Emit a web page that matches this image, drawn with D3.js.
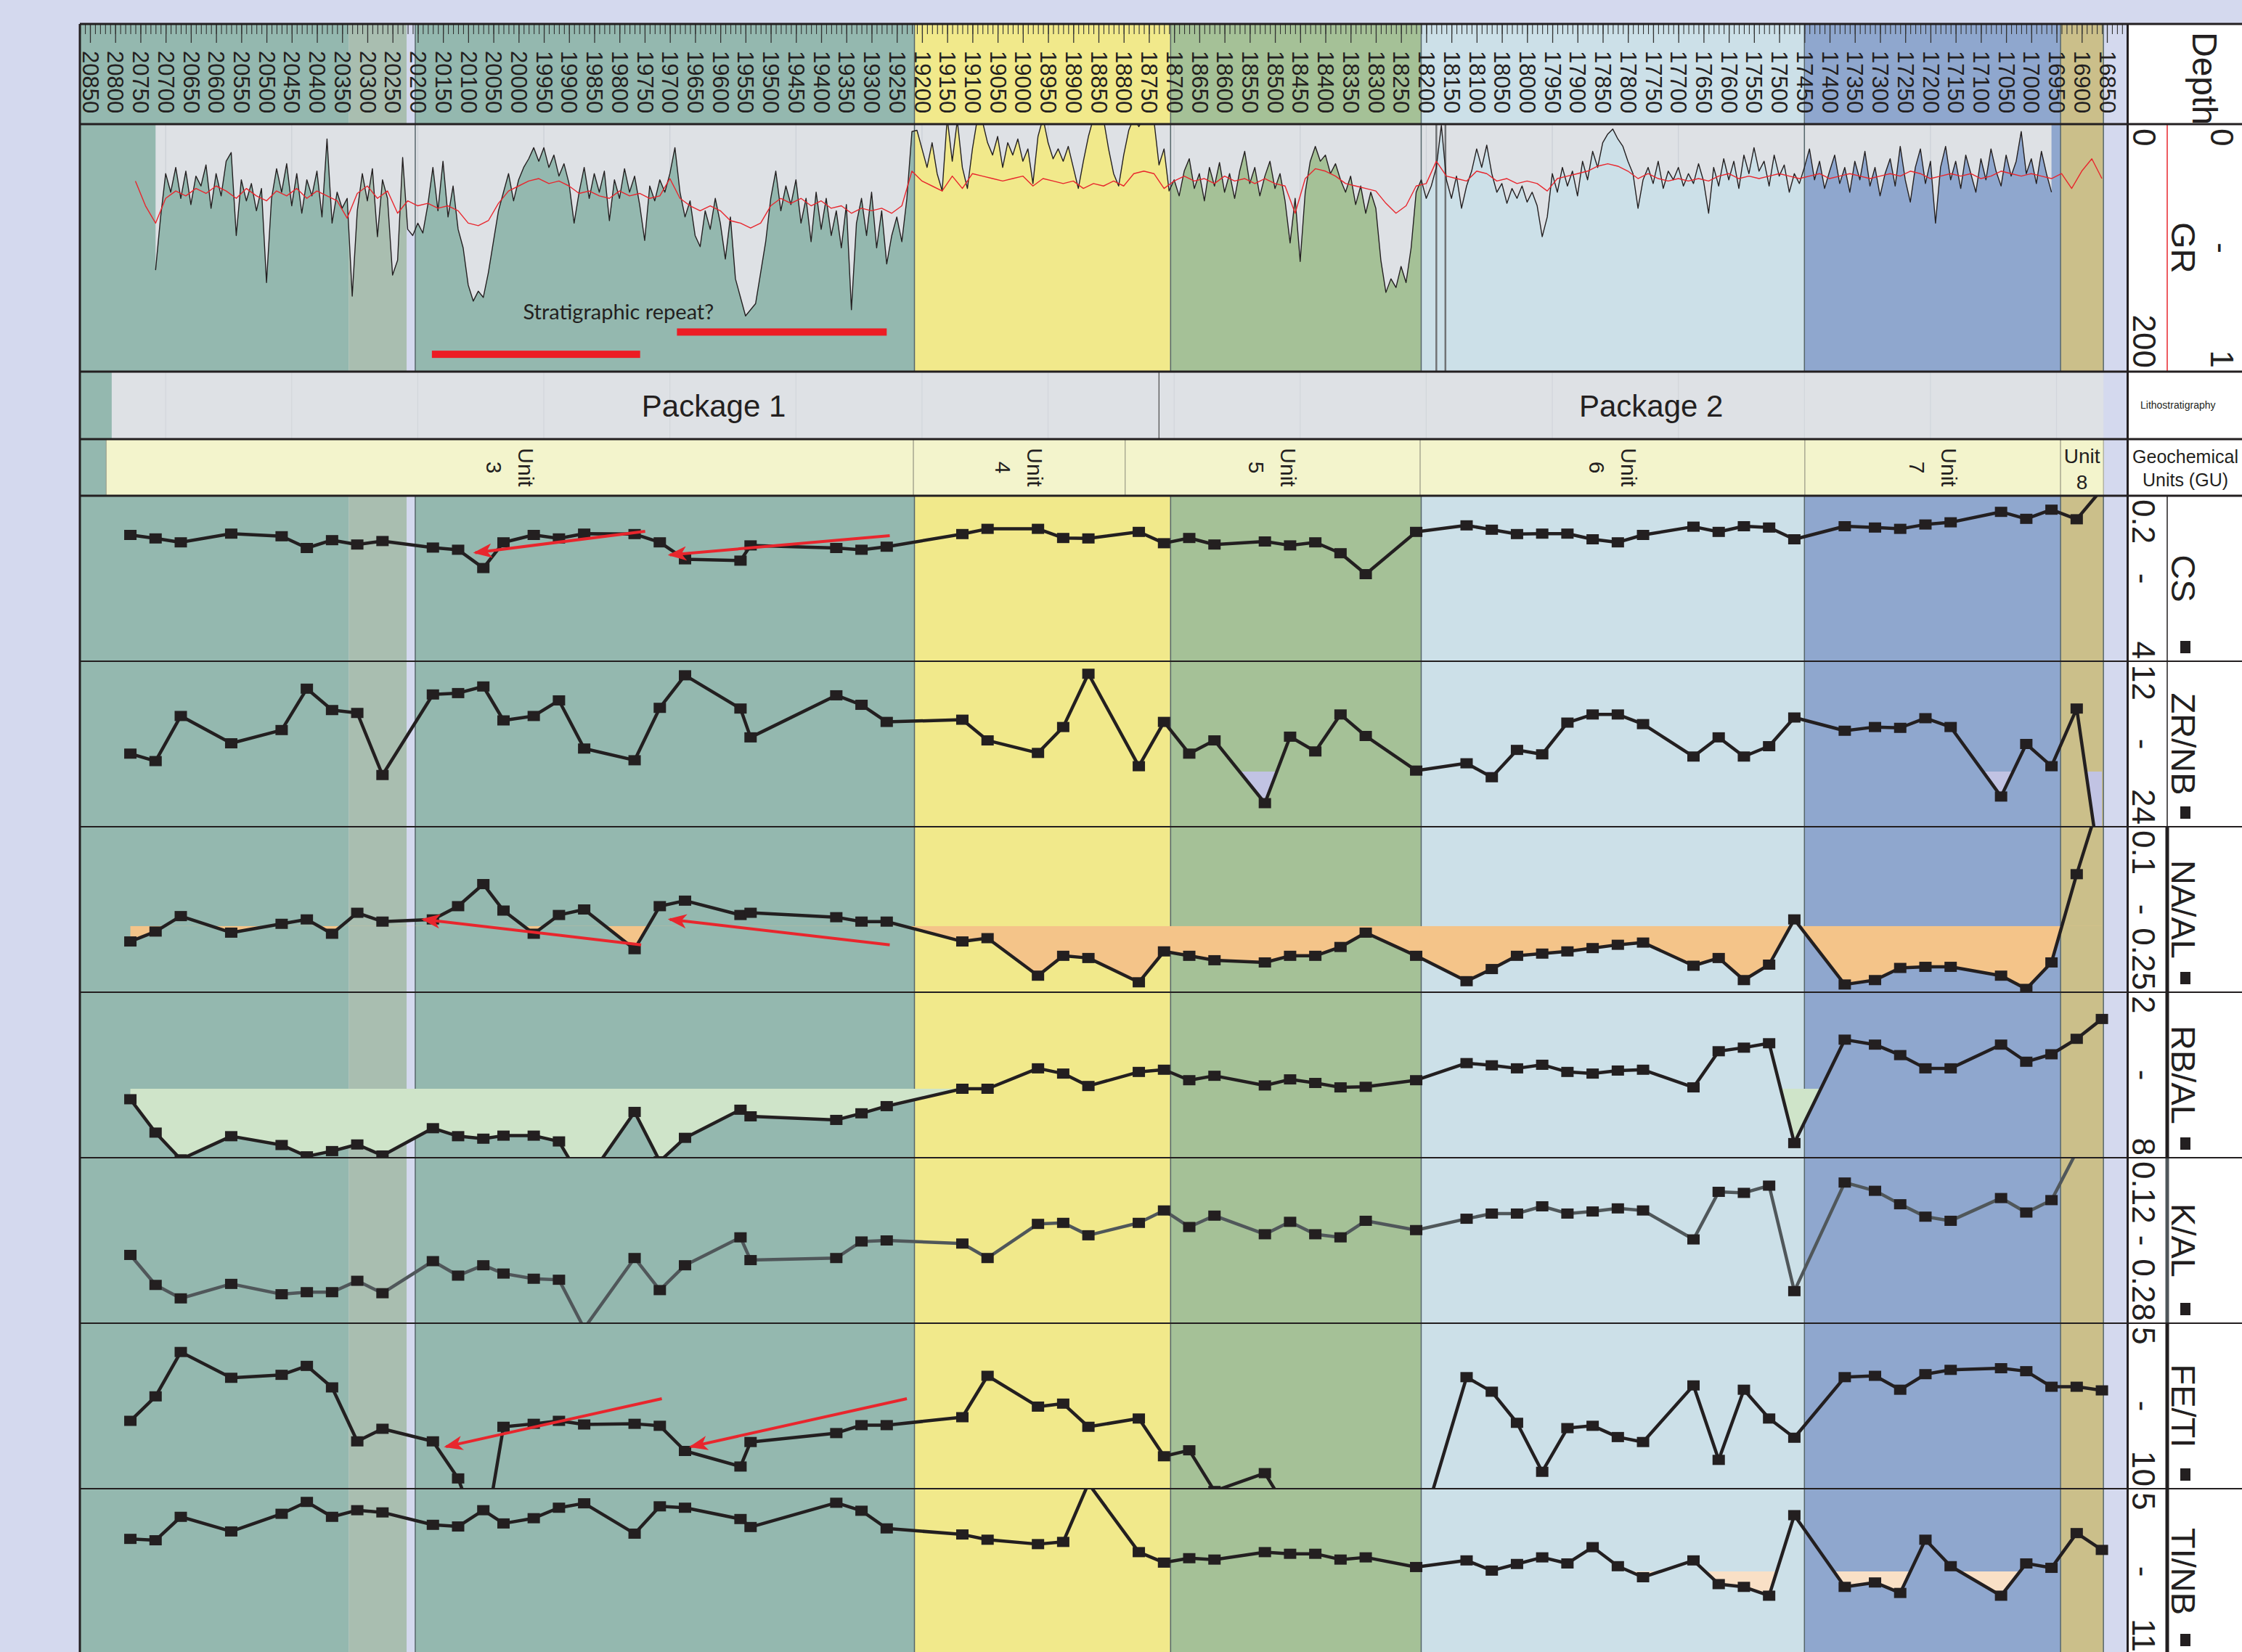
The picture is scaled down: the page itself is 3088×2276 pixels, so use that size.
<!DOCTYPE html>
<html>
<head>
<meta charset="utf-8">
<script src="https://cdn.jsdelivr.net/npm/d3@7"></script>
<style>
  body { margin: 0; background: #d4d9ee; }
  svg { display: block; font-family: "Liberation Sans", Arial, Helvetica, sans-serif; }
</style>
</head>
<body>
<div id="wrapper"></div>
<script>
// ---------- data read off the log ----------
// colour zones (depth ft, deep -> shallow)
const zoneEdges = [20875, 20337, 20222, 20205, 19215, 18707, 18210, 17450, 16942, 16857, 16800]
const zoneColors = ["#94b8af", "#a9beb0", "#d4d9ee", "#94b8af", "#f1e98b", "#a5c197", "#cce0e8", "#8fa7ce", "#cbbf8a", "#d4d9ee"]
const zoneLineDepths = [20205, 19215, 18707, 18210, 17450, 16942, 16857]

const depthLabels = d3.range(16850, 20851, 50)
const depthMinorTicks = d3.range(16810, 20871, 10)
const gridDepths = [20700, 20450, 20200, 19950, 19700, 19450, 19200, 18950, 18700, 18450, 18200, 17950, 17700, 17450, 17200, 16950]

const packageNames = ["Package 1", "Package 2"]
const packageTops = [20807, 18730]
const packageBases = [18730, 16857]
const packageLabelDepths = [19613, 17754]

const unitNames = ["3", "4", "5", "6", "7", "8"]
const unitTops = [20818, 19217, 18797, 18212, 17449, 16942]
const unitBases = [19217, 18797, 18212, 17449, 16942, 16857]

// gamma ray (API), every 10 ft from 20720 ft
const grTopDepth = 20720, grStep = 10
const grValues = [
  118,75,40,55,35,60,38,65,42,50,
  33,68,40,58,30,23,90,45,62,48,
  70,52,128,60,36,55,32,66,40,72,
  45,58,38,75,12,80,55,68,60,139,
  70,40,62,36,91,45,60,122,110,27,
  85,90,80,88,65,35,70,30,75,50,
  85,100,130,143,135,140,120,95,70,55,
  40,62,45,35,28,19,30,19,35,25,
  42,32,48,80,55,35,60,40,55,38,
  78,45,60,36,55,42,65,94,50,62,
  45,55,40,19,55,75,62,90,99,70,
  85,60,80,109,75,125,140,155,150,145,
  120,95,60,38,70,50,65,45,80,60,
  95,55,85,60,90,70,100,65,150,80,
  60,90,55,100,70,113,90,75,95,60,
  6,5,20,35,15,40,54,-5,30,-3,
  35,52,20,-5,-2,15,25,10,35,15,
  25,12,30,20,48,10,-5,15,28,20,
  30,18,35,52,30,10,-5,0,-4,20,
  40,50,25,5,-5,2,-5,0,-3,33,
  20,54,45,58,38,28,52,40,62,35,
  50,31,55,40,60,38,22,48,35,58,
  42,30,52,40,62,96,60,111,55,30,
  18,30,25,40,32,45,55,42,65,50,
  72,55,68,110,136,125,132,115,128,100,
  55,45,60,50,35,1,45,60,42,68,
  50,38,20,35,17,40,55,48,64,52,
  60,50,63,55,66,91,75,40,55,35,
  50,38,58,30,45,22,35,15,8,4,
  12,18,30,40,68,45,35,48,30,52,
  38,45,35,50,40,48,32,46,72,35,
  50,28,45,30,52,25,40,19,38,30,
  50,25,42,33,55,40,48,35,20,45,
  30,52,38,25,48,35,55,30,45,22,
  50,35,58,40,28,50,18,45,63,35,
  20,48,30,80,35,18,45,30,52,25,
  40,55,28,45,20,38,50,25,42,30,
  6,40,28,48,22,40,55
]
// red curve (0 - 1), every 20 ft from 20760 ft
const grRatioTopDepth = 20760, grRatioStep = 20
const grRatioValues = [
  0.23,0.33,0.40,0.30,0.27,0.29,0.26,0.28,0.25,0.27,
  0.30,0.26,0.29,0.31,0.27,0.29,0.26,0.30,0.27,0.29,
  0.31,0.38,0.28,0.25,0.30,0.27,0.36,0.31,0.33,0.32,
  0.34,0.33,0.35,0.40,0.41,0.39,0.32,0.27,0.25,0.23,
  0.22,0.24,0.23,0.25,0.28,0.27,0.29,0.30,0.27,0.29,
  0.28,0.30,0.29,0.22,0.30,0.33,0.35,0.33,0.35,0.39,
  0.40,0.42,0.40,0.33,0.30,0.32,0.30,0.33,0.31,0.34,
  0.33,0.36,0.34,0.35,0.34,0.36,0.33,0.19,0.23,0.25,
  0.27,0.21,0.26,0.20,0.21,0.22,0.23,0.22,0.21,0.25,
  0.22,0.23,0.24,0.23,0.26,0.24,0.25,0.23,0.25,0.20,
  0.19,0.20,0.26,0.23,0.21,0.23,0.22,0.24,0.21,0.23,
  0.22,0.24,0.22,0.24,0.25,0.36,0.22,0.18,0.19,0.21,
  0.24,0.25,0.26,0.27,0.32,0.36,0.33,0.25,0.24,0.15,
  0.21,0.22,0.23,0.19,0.20,0.23,0.22,0.24,0.23,0.24,
  0.27,0.22,0.21,0.20,0.19,0.17,0.16,0.17,0.19,0.22,
  0.20,0.22,0.23,0.22,0.23,0.22,0.23,0.21,0.20,0.22,
  0.21,0.22,0.21,0.20,0.21,0.22,0.21,0.20,0.22,0.21,
  0.20,0.21,0.22,0.21,0.20,0.21,0.19,0.20,0.22,0.21,
  0.20,0.21,0.20,0.22,0.21,0.19,0.20,0.21,0.20,0.21,
  0.22,0.20,0.26,0.19,0.14,0.22
]
const grSpikeLines = [18180, 18162]

const repeatBarTops = [20172, 19686]
const repeatBarBases = [19759, 19270]
const repeatBarGR = [186, 168]
const repeatText = "Stratigraphic repeat?"
const repeatTextDepth = 19802, repeatTextGR = 158

// geochemistry samples
const sampleDepths = [20770,20720,20670,20570,20470,20420,20370,20320,20270,20170,20120,20070,20030,19970,19920,19870,19770,19720,19670,19560,19540,
  19370,19320,19270,19120,19070,18970,18920,18870,18770,18720,18670,18620,18520,18470,18420,18370,18320,18220,18120,
  18070,18020,17970,17920,17870,17820,17770,17670,17620,17570,17520,17470,17370,17310,17260,17210,17160,17060,17010,16960,16910,16860]

const csValues = [1.10,1.18,1.27,1.07,1.13,1.40,1.22,1.32,1.24,1.39,1.44,1.86,1.27,1.10,1.18,1.07,1.08,1.27,1.66,1.69,1.34,
  1.40,1.44,1.37,1.08,0.96,0.96,1.17,1.18,1.03,1.29,1.17,1.32,1.25,1.34,1.27,1.52,2.00,1.03,0.88,
  0.98,1.08,1.07,1.07,1.20,1.27,1.10,0.91,1.03,0.90,0.93,1.20,0.90,0.93,0.96,0.86,0.81,0.57,0.73,0.52,0.74,0.05]
const zrnbValues = [18.70,19.24,15.97,17.95,16.99,13.99,15.54,15.75,20.25,14.41,14.31,13.83,16.29,15.97,14.84,18.33,19.18,15.38,13.02,15.43,17.52,
  14.47,15.16,16.40,16.24,17.74,18.65,16.77,12.91,19.61,16.40,18.70,17.74,22.29,17.47,18.54,15.86,17.42,19.93,19.40,
  20.41,18.43,18.75,16.45,15.86,15.86,16.56,18.91,17.52,18.91,18.16,16.08,17.04,16.77,16.83,16.13,16.77,21.81,18.00,19.61,15.43,28.0]
const naalValues = [0.204,0.195,0.181,0.196,0.188,0.184,0.197,0.178,0.186,0.184,0.172,0.152,0.176,0.197,0.180,0.175,0.211,0.172,0.167,0.180,0.178,
  0.182,0.186,0.186,0.204,0.201,0.235,0.217,0.219,0.241,0.213,0.217,0.221,0.223,0.217,0.217,0.209,0.196,0.217,0.240,
  0.229,0.217,0.215,0.213,0.210,0.207,0.205,0.226,0.219,0.239,0.225,0.184,0.243,0.239,0.228,0.227,0.227,0.235,0.247,0.223,0.143,0.070]
const rbalValues = [5.88,7.09,8.06,7.22,7.54,7.95,7.76,7.52,7.92,6.93,7.22,7.31,7.20,7.20,7.41,8.97,6.34,8.13,7.28,6.26,6.50,
  6.63,6.39,6.13,5.50,5.50,4.76,4.95,5.40,4.89,4.81,5.19,5.03,5.38,5.16,5.29,5.45,5.43,5.19,4.57,
  4.65,4.76,4.63,4.89,4.95,4.84,4.81,5.45,4.14,4.01,3.85,7.47,3.72,3.90,4.28,4.76,4.76,3.90,4.52,4.25,3.69,2.97]
const kalValues = [0.214,0.243,0.256,0.242,0.252,0.250,0.250,0.239,0.251,0.220,0.234,0.224,0.232,0.237,0.238,0.285,0.217,0.248,0.224,0.197,0.219,
  0.217,0.201,0.200,0.203,0.217,0.184,0.183,0.195,0.183,0.171,0.187,0.176,0.194,0.182,0.194,0.197,0.181,0.190,0.179,
  0.174,0.174,0.167,0.174,0.172,0.169,0.171,0.199,0.153,0.154,0.147,0.249,0.144,0.152,0.165,0.177,0.181,0.159,0.173,0.161,0.114,null]
const fetiValues = [7.95,7.21,5.87,6.65,6.56,6.29,6.94,8.57,8.19,8.57,9.69,11.74,8.13,8.04,7.95,8.06,8.04,8.10,8.86,9.33,8.59,
  8.32,8.08,8.08,7.84,6.59,7.52,7.43,8.13,7.88,9.02,8.84,10.07,9.53,10.78,null,null,null,11.74,6.63,
  7.07,8.01,9.49,8.17,8.10,8.44,8.59,6.88,9.13,7.01,7.88,8.46,6.63,6.59,7.01,6.54,6.41,6.36,6.45,6.92,6.92,7.03]
const tinbValues = [6.82,6.87,6.02,6.55,5.91,5.48,6.02,5.78,5.86,6.31,6.37,5.78,6.26,6.07,5.69,5.53,6.63,5.64,5.69,6.10,6.39,
  5.51,5.80,6.44,6.66,6.85,7.01,6.93,4.81,7.30,7.68,7.52,7.57,7.30,7.36,7.36,7.57,7.49,7.84,7.60,
  7.97,7.73,7.49,7.71,7.12,7.81,8.21,7.60,8.46,8.56,8.88,5.96,8.56,8.40,8.78,6.85,7.81,8.88,7.71,7.87,6.61,7.22]

const trackNames = ["CS", "ZR/NB", "NA/AL", "RB/AL", "K/AL", "FE/TI", "TI/NB"]
const trackValues = [csValues, zrnbValues, naalValues, rbalValues, kalValues, fetiValues, tinbValues]
const trackMins = [0.2, 12, 0.1, 2, 0.12, 5, 5]
const trackMaxs = [4, 24, 0.25, 8, 0.28, 10, 11]
const trackMinLabels = ["0.2", "12", "0.1", "2", "0.12", "5", "5"]
const trackMaxLabels = ["4", "24", "0.25", "8", "0.28", "10", "11"]
const trackLineColors = ["#231f20", "#231f20", "#231f20", "#231f20", "#50575a", "#231f20", "#231f20"]
const trackLegendWidths = [1.5, 1.5, 5, 5, 5, 5, 5]
const fillBaselines = [null, 20, 0.19, 5.5, null, null, 8]
const fillColors = [null, "#c1c3e3", "#f4c489", "#cfe4c9", null, null, "#f9e0c6"]

// red arrows (track index, tail -> tip)
const arrowTrack = [0, 0, 2, 2, 5, 5]
const arrowTailDepth = [19749, 19264, 19757, 19264, 19716, 19230]
const arrowTailValue = [1.015, 1.117, 0.207, 0.207, 7.28, 7.28]
const arrowTipDepth = [20086, 19700, 20189, 19700, 20144, 19658]
const arrowTipValue = [1.507, 1.558, 0.184, 0.184, 8.73, 8.73]

// ---------- layout ----------
const W = 3088, H = 2276
const plotLeft = 110, plotRight = 2930, headerLeft = 2932
const depthY0 = 33, grY0 = 171, pkgY0 = 512, unitY0 = 605, geoY0 = 683, trackH = 228
const ink = "#231f20", red = "#e8262d"
const font = '"Liberation Sans", Arial, Helvetica, sans-serif'

const x = d3.scaleLinear().domain([20850, 16850]).range([124, 2902])
const xc = d => Math.max(plotLeft, Math.min(plotRight, x(d)))

const svg = d3.select("#wrapper").append("svg")
    .attr("width", W)
    .attr("height", H)
const defs = svg.append("defs")

svg.append("rect").attr("width", W).attr("height", H).attr("fill", "#d4d9ee")

function drawZones(g, y0, y1) {
    g.append("g").selectAll("rect")
        .data(zoneColors)
        .join("rect")
        .attr("x", (c, i) => xc(zoneEdges[i]))
        .attr("width", (c, i) => xc(zoneEdges[i + 1]) - xc(zoneEdges[i]))
        .attr("y", y0)
        .attr("height", y1 - y0)
        .attr("fill", c => c)
}
function drawZoneLines(g, y0, y1) {
    g.append("g").selectAll("line")
        .data(zoneLineDepths)
        .join("line")
        .attr("x1", d => x(d)).attr("x2", d => x(d))
        .attr("y1", y0).attr("y2", y1)
        .attr("stroke", "#56666b")
        .attr("stroke-width", 1.5)
}
// rotated (top-to-bottom) text
function vtext(g, cx, cy, str, size, anchor) {
    return g.append("text")
        .attr("transform", `translate(${cx},${cy}) rotate(90)`)
        .attr("dy", "0.35em")
        .attr("text-anchor", anchor)
        .attr("font-size", size)
        .attr("fill", ink)
        .text(str)
}

// ---------- depth track ----------
const depthG = svg.append("g")
drawZones(depthG, depthY0, grY0)
drawZoneLines(depthG, depthY0, grY0)

const minorAxis = d3.axisBottom(x).tickValues(depthMinorTicks).tickSize(13).tickFormat("")
depthG.append("g")
    .attr("transform", `translate(0,${depthY0 + 1})`)
    .call(minorAxis)
    .call(g => g.select(".domain").remove())
    .call(g => g.selectAll("line").attr("stroke", "#333").attr("stroke-width", 1.1))

const majorAxis = d3.axisBottom(x).tickValues(depthLabels).tickSize(25).tickFormat(d3.format("d"))
const majorG = depthG.append("g")
    .attr("transform", `translate(0,${depthY0 + 1})`)
    .call(majorAxis)
majorG.attr("font-size", 31).attr("font-family", font)
majorG.select(".domain").remove()
majorG.selectAll("line").attr("stroke", "#333").attr("stroke-width", 1.3)
majorG.selectAll("text")
    .attr("y", 0)
    .attr("dy", "0.35em")
    .attr("transform", "translate(0,36) rotate(90)")
    .attr("text-anchor", "start")
    .attr("fill", ink)

// ---------- GR track ----------
const grH = pkgY0 - grY0
const yGR = d3.scaleLinear().domain([0, 200]).range([grY0, pkgY0])
const yRatio = d3.scaleLinear().domain([0, 1]).range([grY0, pkgY0])
const grPoints = grValues.map((v, i) => ({ d: grTopDepth - i * grStep, v }))
const ratioPoints = grRatioValues.map((v, i) => ({ d: grRatioTopDepth - i * grRatioStep, v }))
const grLast = grPoints[grPoints.length - 1].d

defs.append("clipPath").attr("id", "grClip")
    .append("rect").attr("x", plotLeft).attr("y", grY0).attr("width", plotRight - plotLeft).attr("height", grH)
const below = defs.append("clipPath").attr("id", "grBelow")
below.append("path")
    .attr("d", d3.area().x(p => x(p.d)).y0(pkgY0 + 5).y1(p => yGR(p.v))(grPoints))
below.append("rect").attr("x", plotLeft).attr("y", grY0).attr("width", x(grTopDepth) - plotLeft).attr("height", grH)
below.append("rect").attr("x", x(grLast)).attr("y", grY0).attr("width", plotRight - x(grLast)).attr("height", grH)

const grG = svg.append("g").attr("clip-path", "url(#grClip)")
grG.append("rect").attr("x", plotLeft).attr("y", grY0).attr("width", plotRight - plotLeft).attr("height", grH).attr("fill", "#dee1e5")
grG.append("g").selectAll("line").data(gridDepths).join("line")
    .attr("x1", d => x(d)).attr("x2", d => x(d)).attr("y1", grY0).attr("y2", pkgY0)
    .attr("stroke", "#cbd0d6").attr("stroke-width", 1.2)
const grZones = grG.append("g").attr("clip-path", "url(#grBelow)")
drawZones(grZones, grY0, pkgY0)
drawZoneLines(grG, grY0, pkgY0)

grG.append("g").selectAll("line").data(grSpikeLines).join("line")
    .attr("x1", d => x(d)).attr("x2", d => x(d)).attr("y1", grY0).attr("y2", pkgY0)
    .attr("stroke", "#707375").attr("stroke-width", 2.5)

grG.append("path").datum(grPoints)
    .attr("d", d3.line().x(p => x(p.d)).y(p => yGR(p.v)))
    .attr("fill", "none").attr("stroke", ink).attr("stroke-width", 1.4).attr("stroke-linejoin", "round")
grG.append("path").datum(ratioPoints)
    .attr("d", d3.line().x(p => x(p.d)).y(p => yRatio(p.v)))
    .attr("fill", "none").attr("stroke", red).attr("stroke-width", 1.4).attr("stroke-linejoin", "round")

grG.append("g").selectAll("rect").data(repeatBarTops).join("rect")
    .attr("x", (d, i) => x(d))
    .attr("width", (d, i) => x(repeatBarBases[i]) - x(d))
    .attr("y", (d, i) => yGR(repeatBarGR[i]) - 5)
    .attr("height", 10)
    .attr("fill", "#ec1c24")
grG.append("text")
    .attr("x", x(repeatTextDepth)).attr("y", yGR(repeatTextGR))
    .attr("text-anchor", "middle")
    .attr("font-family", "Lato, 'Open Sans', sans-serif")
    .attr("font-size", 29)
    .attr("fill", ink)
    .text(repeatText)

// ---------- lithostratigraphy (packages) ----------
const pkgG = svg.append("g")
drawZones(pkgG, pkgY0, unitY0)
pkgG.append("g").selectAll("rect").data(packageNames).join("rect")
    .attr("x", (d, i) => x(packageTops[i]))
    .attr("width", (d, i) => x(packageBases[i]) - x(packageTops[i]))
    .attr("y", pkgY0).attr("height", unitY0 - pkgY0)
    .attr("fill", "#dee1e5")
pkgG.append("g").selectAll("line").data(gridDepths.filter(d => d < 20807 && d > 16857)).join("line")
    .attr("x1", d => x(d)).attr("x2", d => x(d)).attr("y1", pkgY0).attr("y2", unitY0)
    .attr("stroke", "#d2d6db").attr("stroke-width", 1.2)
pkgG.append("line")
    .attr("x1", x(packageBases[0])).attr("x2", x(packageBases[0]))
    .attr("y1", pkgY0).attr("y2", unitY0)
    .attr("stroke", "#555").attr("stroke-width", 1.3)
pkgG.append("g").selectAll("text").data(packageNames).join("text")
    .attr("x", (d, i) => x(packageLabelDepths[i]))
    .attr("y", (pkgY0 + unitY0) / 2 + 15)
    .attr("text-anchor", "middle")
    .attr("font-size", 42)
    .attr("fill", ink)
    .text(d => d)

// ---------- geochemical units ----------
const unitG = svg.append("g")
drawZones(unitG, unitY0, geoY0)
unitG.append("g").selectAll("rect").data(unitNames).join("rect")
    .attr("x", (d, i) => x(unitTops[i]))
    .attr("width", (d, i) => x(unitBases[i]) - x(unitTops[i]))
    .attr("y", unitY0).attr("height", geoY0 - unitY0)
    .attr("fill", "#f3f4cc")
    .attr("stroke", "#9a9a86")
    .attr("stroke-width", 1)
const unitMid = (unitY0 + geoY0) / 2
unitNames.forEach((name, i) => {
    const x0 = x(unitTops[i]), x1 = x(unitBases[i])
    const cx = (x0 + x1) / 2
    if (x1 - x0 > 80) {
        vtext(unitG, cx + 22, unitMid, "Unit", 30, "middle")
        vtext(unitG, cx - 22, unitMid, name, 30, "middle")
    } else {
        unitG.append("text").attr("x", cx).attr("y", unitMid - 6).attr("text-anchor", "middle")
            .attr("font-size", 28).attr("fill", ink).text("Unit")
        unitG.append("text").attr("x", cx).attr("y", unitMid + 30).attr("text-anchor", "middle")
            .attr("font-size", 28).attr("fill", ink).text(name)
    }
})

// ---------- geochemistry tracks ----------
const geoG = svg.append("g")
drawZones(geoG, geoY0, H)
drawZoneLines(geoG, geoY0, H)

const trackY = []
trackNames.forEach((name, i) => {
    const top = geoY0 + i * trackH
    const y = d3.scaleLinear().domain([trackMins[i], trackMaxs[i]]).range([top, top + trackH])
    trackY.push(y)
    const pts = sampleDepths.map((d, k) => ({ d, v: trackValues[i][k] }))

    const clipId = "trackClip" + i
    defs.append("clipPath").attr("id", clipId)
        .append("rect").attr("x", plotLeft).attr("y", top).attr("width", plotRight - plotLeft).attr("height", trackH)
    const g = geoG.append("g").attr("clip-path", `url(#${clipId})`)

    // shade where the curve passes the cut-off value
    if (fillBaselines[i] != null) {
        const base = y(fillBaselines[i])
        const fillId = "fillClip" + i
        defs.append("clipPath").attr("id", fillId)
            .append("rect").attr("x", plotLeft).attr("y", base).attr("width", plotRight - plotLeft).attr("height", top + trackH - base + 400)
        g.append("path")
            .datum(pts.filter(p => p.v != null))
            .attr("clip-path", `url(#${fillId})`)
            .attr("d", d3.area().x(p => x(p.d)).y0(base).y1(p => y(p.v)))
            .attr("fill", fillColors[i])
    }

    g.append("path").datum(pts)
        .attr("d", d3.line().defined(p => p.v != null).x(p => x(p.d)).y(p => y(p.v)))
        .attr("fill", "none")
        .attr("stroke", trackLineColors[i])
        .attr("stroke-width", 4.5)
        .attr("stroke-linejoin", "round")

    g.append("g").selectAll("rect")
        .data(pts.filter(p => p.v != null))
        .join("rect")
        .attr("x", p => x(p.d) - 8.5)
        .attr("y", p => y(p.v) - 7)
        .attr("width", 17)
        .attr("height", 14)
        .attr("fill", ink)
})

// red arrows
defs.append("marker")
    .attr("id", "arrowHead")
    .attr("viewBox", "0 0 26 20")
    .attr("refX", 23).attr("refY", 10)
    .attr("markerWidth", 26).attr("markerHeight", 20)
    .attr("markerUnits", "userSpaceOnUse")
    .attr("orient", "auto")
    .append("path").attr("d", "M0,0 L26,10 L0,20 L7,10 Z").attr("fill", red)
svg.append("g").selectAll("line").data(arrowTrack).join("line")
    .attr("x1", (t, i) => x(arrowTailDepth[i]))
    .attr("y1", (t, i) => trackY[t](arrowTailValue[i]))
    .attr("x2", (t, i) => x(arrowTipDepth[i]))
    .attr("y2", (t, i) => trackY[t](arrowTipValue[i]))
    .attr("stroke", red)
    .attr("stroke-width", 4)
    .attr("marker-end", "url(#arrowHead)")

// ---------- header column ----------
svg.append("rect").attr("x", headerLeft).attr("y", depthY0).attr("width", W - headerLeft).attr("height", H - depthY0).attr("fill", "#fff")

// legend lines in header
svg.append("line").attr("x1", 2985).attr("x2", 2985).attr("y1", grY0).attr("y2", pkgY0).attr("stroke", red).attr("stroke-width", 1.5)
trackNames.forEach((name, i) => {
    const top = geoY0 + i * trackH
    svg.append("line").attr("x1", 2985).attr("x2", 2985).attr("y1", top).attr("y2", top + trackH)
        .attr("stroke", trackLineColors[i]).attr("stroke-width", trackLegendWidths[i])
})

// separators
const thickRows = [depthY0, grY0, pkgY0, unitY0, geoY0]
svg.append("g").selectAll("line").data(thickRows).join("line")
    .attr("x1", plotLeft).attr("x2", W).attr("y1", d => d).attr("y2", d => d)
    .attr("stroke", ink).attr("stroke-width", 3)
svg.append("g").selectAll("line").data(d3.range(1, trackNames.length).map(i => geoY0 + i * trackH)).join("line")
    .attr("x1", plotLeft).attr("x2", W).attr("y1", d => d).attr("y2", d => d)
    .attr("stroke", ink).attr("stroke-width", 2)
svg.append("line").attr("x1", plotLeft).attr("x2", plotLeft).attr("y1", depthY0).attr("y2", H).attr("stroke", ink).attr("stroke-width", 3)
svg.append("line").attr("x1", plotRight + 0.5).attr("x2", plotRight + 0.5).attr("y1", depthY0).attr("y2", H).attr("stroke", ink).attr("stroke-width", 3)

// header text
const hdr = svg.append("g")
vtext(hdr, 3037, 44, "Depth", 48, "start")
vtext(hdr, 2953, grY0 + 6, "0", 44, "start")
vtext(hdr, 2953, pkgY0 - 5, "200", 44, "end")
vtext(hdr, 3007, (grY0 + pkgY0) / 2, "GR", 47, "middle")
vtext(hdr, 3060, grY0 + 6, "0", 44, "start")
vtext(hdr, 3060, (grY0 + pkgY0) / 2, "-", 44, "middle")
vtext(hdr, 3060, pkgY0 - 5, "1", 44, "end")

hdr.append("text").attr("x", 2948).attr("y", 563).attr("font-size", 14).attr("fill", ink).text("Lithostratigraphy")
hdr.append("text").attr("x", 3010).attr("y", 638).attr("text-anchor", "middle").attr("font-size", 25).attr("fill", ink).text("Geochemical")
hdr.append("text").attr("x", 3010).attr("y", 670).attr("text-anchor", "middle").attr("font-size", 25).attr("fill", ink).text("Units (GU)")

trackNames.forEach((name, i) => {
    const top = geoY0 + i * trackH
    vtext(hdr, 2952, top + 5, trackMinLabels[i], 44, "start")
    vtext(hdr, 2952, top + trackH / 2, "-", 44, "middle")
    vtext(hdr, 2952, top + trackH - 3, trackMaxLabels[i], 44, "end")
    vtext(hdr, 3007, top + trackH / 2, name, 47, "middle")
    hdr.append("rect")
        .attr("x", 3003).attr("y", top + trackH - 28)
        .attr("width", 14).attr("height", 17)
        .attr("fill", ink)
})
</script>
</body>
</html>
